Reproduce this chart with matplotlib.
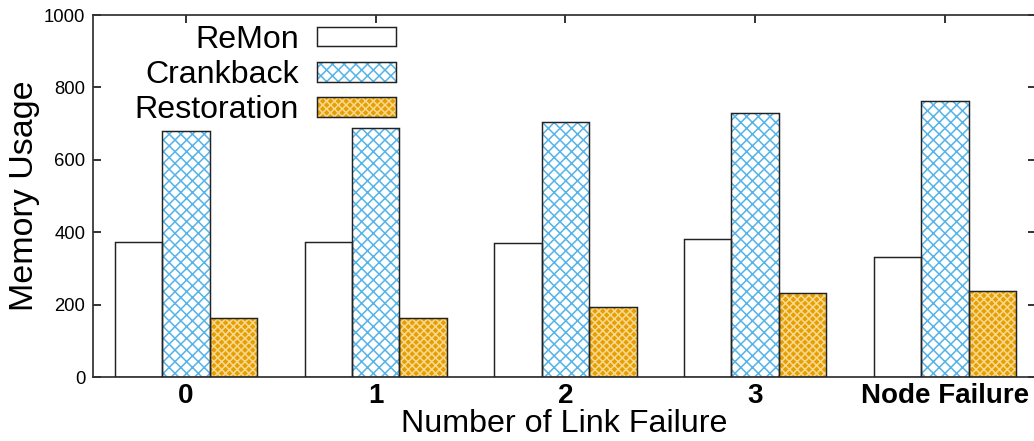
import numpy as np
import matplotlib
matplotlib.use("Agg")
import matplotlib.pyplot as plt
from matplotlib.patches import Patch
from matplotlib.legend_handler import HandlerTuple

plt.rcParams["font.family"] = ["Liberation Sans", "DejaVu Sans"]
plt.rcParams["hatch.linewidth"] = 0.8

# Memory usage per scenario
categories = ["0", "1", "2", "3", "Node Failure"]
remon = [372, 372, 371, 382, 332]
crankback = [679, 689, 704, 730, 762]
restoration = [162, 163, 193, 232, 237]

series = [
    ("ReMon", remon, "white", None, "black"),
    ("Crankback", crankback, "white", "xxxx", "#56B4E9"),
    ("Restoration", restoration, "#E69F00", "xxxxxx", "#F8D890"),
]

DPI = 140
fig = plt.figure(figsize=(1034 / DPI, 441 / DPI), dpi=DPI)
ax = fig.add_axes([93 / 1034, 1 - 377 / 441, (1036 - 93) / 1034, (377 - 15) / 441])

x = np.arange(len(categories))
width = 0.25
handles = []
for i, (name, vals, face, hatch, hcol) in enumerate(series):
    pos = x + (i - 1) * width
    # fill + hatch layer, then black outline on top
    ax.bar(pos, vals, width, color=face, hatch=hatch, edgecolor=hcol, linewidth=0, zorder=2)
    ax.bar(pos, vals, width, fill=False, edgecolor="#222222", linewidth=0.75, zorder=3)
    h_fill = Patch(facecolor=face, hatch=hatch, edgecolor=hcol, linewidth=0)
    h_edge = Patch(fill=False, edgecolor="#222222", linewidth=0.75)
    handles.append((h_fill, h_edge))

ax.set_xlim(-0.49, 4.48)
ax.set_ylim(0, 1000)
ax.set_yticks([0, 200, 400, 600, 800, 1000])
ax.set_xticks(x)
ax.set_xticklabels(categories, fontsize=14.3, fontweight="bold")
ax.tick_params(axis="y", labelsize=9.5, direction="in", length=4, width=0.8,
               right=True, pad=4)
ax.tick_params(axis="x", direction="in", length=4, width=0.8, top=True, pad=3)
for s in ax.spines.values():
    s.set_linewidth(0.9)
    s.set_color("#333333")

ax.set_ylabel("Memory Usage", fontsize=17.5, labelpad=2)
ax.set_xlabel("Number of Link Failure", fontsize=16.6, labelpad=0)

leg = fig.legend(handles, [s[0] for s in series],
                 handler_map={tuple: HandlerTuple(ndivide=1, pad=0)},
                 loc="upper right", bbox_to_anchor=(396 / 1034, 1 - 25 / 441),
                 frameon=False, markerfirst=False, fontsize=16.5,
                 handlelength=2.47, handleheight=0.56, handletextpad=0.56,
                 labelspacing=0.16, borderpad=0, borderaxespad=0)

fig.savefig("out.png", dpi=DPI)
